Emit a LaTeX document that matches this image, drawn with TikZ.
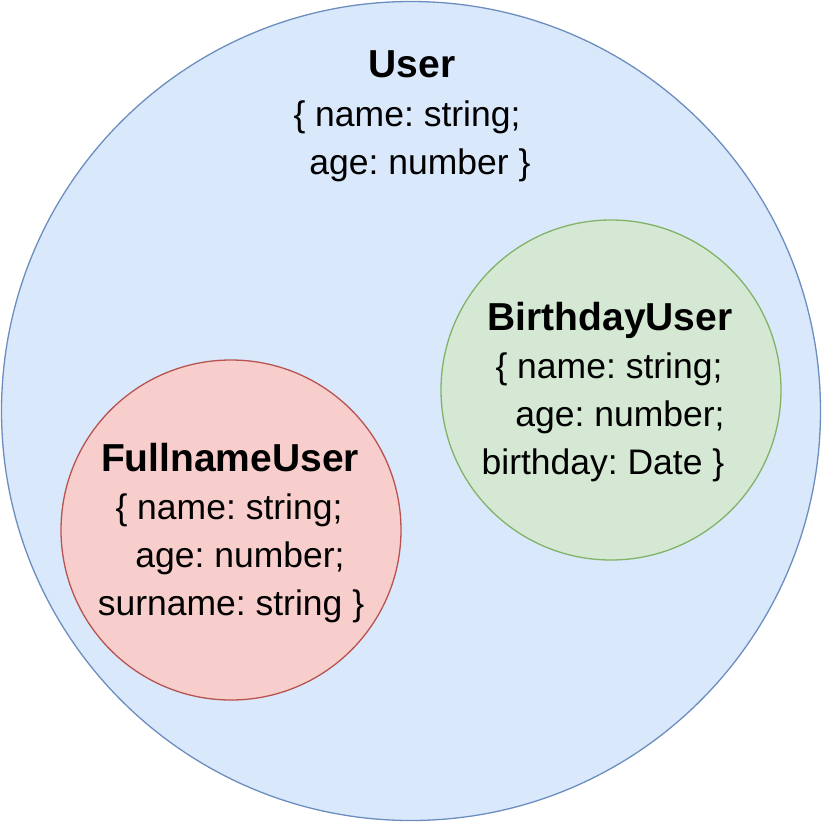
\documentclass[tikz,border=0pt]{standalone}
\usepackage{fontspec}
\setmainfont{Liberation Sans}
\frenchspacing
\definecolor{bluefill}{HTML}{DAE8FC}
\definecolor{bluedraw}{HTML}{6C8EBF}
\definecolor{greenfill}{HTML}{D5E8D4}
\definecolor{greendraw}{HTML}{82B366}
\definecolor{redfill}{HTML}{F8CECC}
\definecolor{reddraw}{HTML}{B85450}
\tikzset{
  settitle/.style={anchor=base, inner sep=0pt, font=\fontsize{39}{46}\selectfont\bfseries},
  setline/.style={anchor=base, inner sep=0pt, font=\fontsize{35.5}{42}\selectfont},
  setcircle/.style={circle, draw, line width=1.3pt, inner sep=0pt},
}
\begin{document}
\begin{tikzpicture}[x=1pt,y=-1pt]
\useasboundingbox (0,0) rectangle (822,822);
\node[setcircle, fill=bluefill, draw=bluedraw, minimum size=819pt] (user) at (411,411) {};
\node[setcircle, fill=greenfill, draw=greendraw, minimum size=340pt] (birthday) at (611,390) {};
\node[setcircle, fill=redfill, draw=reddraw, minimum size=340pt] (fullname) at (231,530) {};

\node[settitle] (ut) at (412,77) {User};
\node[setline] (u1) at (407,126) {\{ name: string;};
\node[setline] (u2) at (420,174) {age: number \}};

\node[settitle] (bt) at (610,330) {BirthdayUser};
\node[setline] (b1) at (609,378) {\{ name: string;};
\node[setline] (b2) at (620,426) {age: number;};
\node[setline] (b3) at (603,474) {birthday: Date \}};

\node[settitle] (ft) at (230,471) {FullnameUser};
\node[setline] (f1) at (229,519) {\{ name: string;};
\node[setline] (f2) at (240,567) {age: number;};
\node[setline] (f3) at (231,615) {surname: string \}};
\end{tikzpicture}
\end{document}
